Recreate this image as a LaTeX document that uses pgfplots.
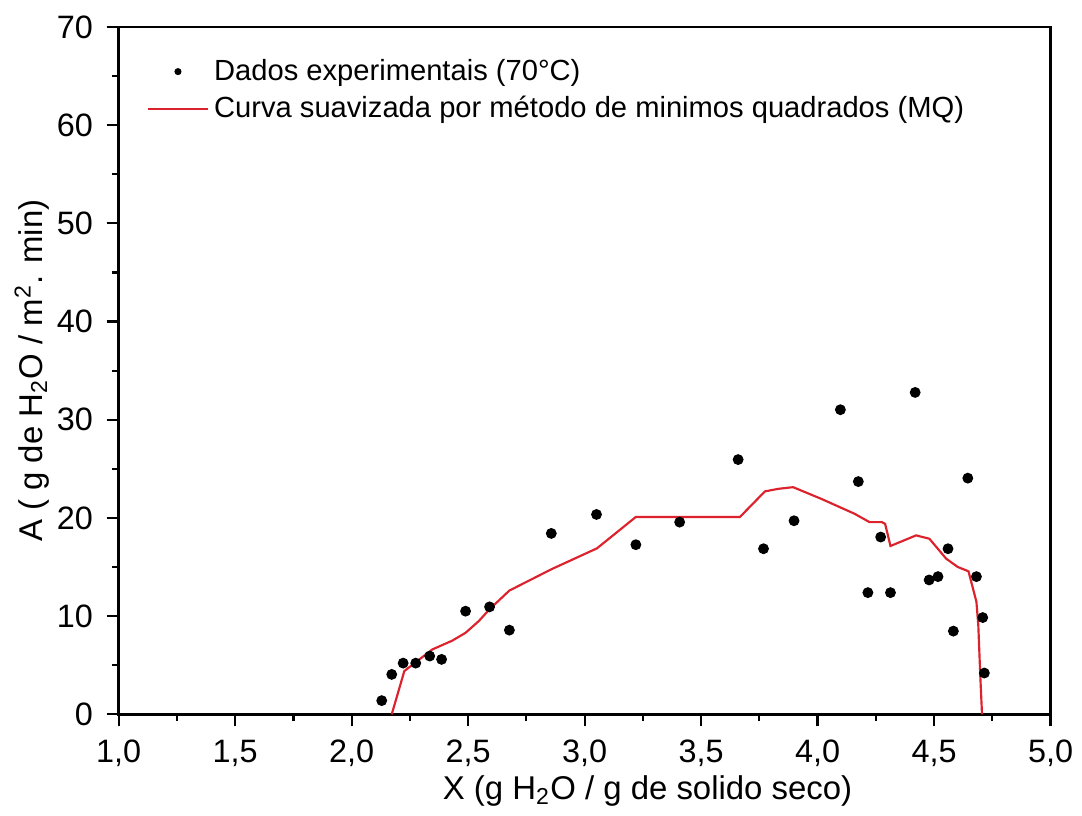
\documentclass[border=0pt]{standalone}
\usepackage{pgfplots}
\pgfplotsset{compat=1.18}
\usepackage{fontspec}
\setmainfont{Liberation Sans}
\definecolor{curvered}{RGB}{220,35,45}
\begin{document}
\begin{tikzpicture}
\begin{axis}[
  name=ax,
  scale only axis,
  width=345.3pt, height=254.7pt,
  xmin=1, xmax=5, ymin=0, ymax=70,
  xtick={1,1.5,...,5}, minor x tick num=1,
  ytick={0,10,...,70}, minor y tick num=1,
  xtick pos=left, ytick pos=left,
  tick align=outside,
  major tick length=4.5pt, minor tick length=2.5pt,
  every tick/.style={black, line width=0.8pt},
  axis line style={line width=1pt},
  tick label style={font=\fontsize{12}{14}\selectfont},
  label style={font=\fontsize{12.2}{14}\selectfont},
  /pgf/number format/assume math mode=true,
  /pgf/number format/use comma,
  xticklabel style={yshift=-1.5pt, /pgf/number format/.cd, fixed, fixed zerofill, precision=1, use comma},
  yticklabel style={xshift=-1.5pt, /pgf/number format/.cd, fixed, precision=0},
  xlabel={X (g H\textsubscript{2}O / g de solido seco)},
  ylabel={A ( g de H\textsubscript{2}O / m\textsuperscript{2}. min)},
  xlabel style={at={(rel axis cs:0.5675,-0.112)}, anchor=center},
  ylabel style={at={(rel axis cs:-0.0933,0.5)}, anchor=center},
  legend style={draw=none, fill=none, at={(0.03,0.962)}, anchor=north west,
    font=\fontsize{10.8}{13}\selectfont, row sep=0.5pt, inner sep=0pt},
  legend cell align=left,
]
\addplot[only marks, mark=*, mark size=1.8pt, black,
  legend image code/.code={\fill[black] (11pt,0pt) circle (1.1pt);}] coordinates {
(2.129,1.39) (2.172,4.06) (2.221,5.21) (2.275,5.21) (2.335,5.93) (2.386,5.59)
(2.489,10.5) (2.592,10.94) (2.677,8.57) (2.857,18.42) (3.051,20.35) (3.220,17.27)
(3.408,19.57) (3.659,25.94) (3.768,16.86) (3.899,19.71) (4.098,31.02) (4.175,23.7)
(4.216,12.39) (4.271,18.05) (4.313,12.39) (4.419,32.78) (4.479,13.68) (4.517,14.02)
(4.560,16.86) (4.583,8.47) (4.645,24.05) (4.682,14.02) (4.709,9.85) (4.716,4.2)
};
\addlegendentry{Dados experimentais (70°C)}
\addplot[curvered, line width=0.8pt, no marks,
  legend image code/.code={\draw[curvered, line width=0.8pt] (0pt,0pt) -- (22pt,0pt);}] coordinates {
(2.172,0) (2.226,4.4) (2.275,5.3) (2.346,6.6) (2.432,7.5) (2.489,8.3) (2.546,9.5)
(2.592,10.7) (2.677,12.6) (2.86,14.8) (3.053,16.9) (3.22,20.1) (3.667,20.1)
(3.774,22.7) (3.831,22.96) (3.895,23.13) (4.016,21.94) (4.159,20.42) (4.223,19.57)
(4.276,19.57) (4.29,19.4) (4.313,17.14) (4.423,18.22) (4.480,17.88) (4.552,15.85)
(4.602,15.0) (4.648,14.56) (4.682,11.45) (4.690,9.07) (4.699,3.66) (4.706,0)
};
\addlegendentry{Curva suavizada por método de minimos quadrados (MQ)}
\end{axis}
\path ([xshift=-44pt,yshift=-35.5pt]ax.south west) rectangle ([xshift=10.7pt,yshift=10pt]ax.north east);
\end{tikzpicture}
\end{document}
